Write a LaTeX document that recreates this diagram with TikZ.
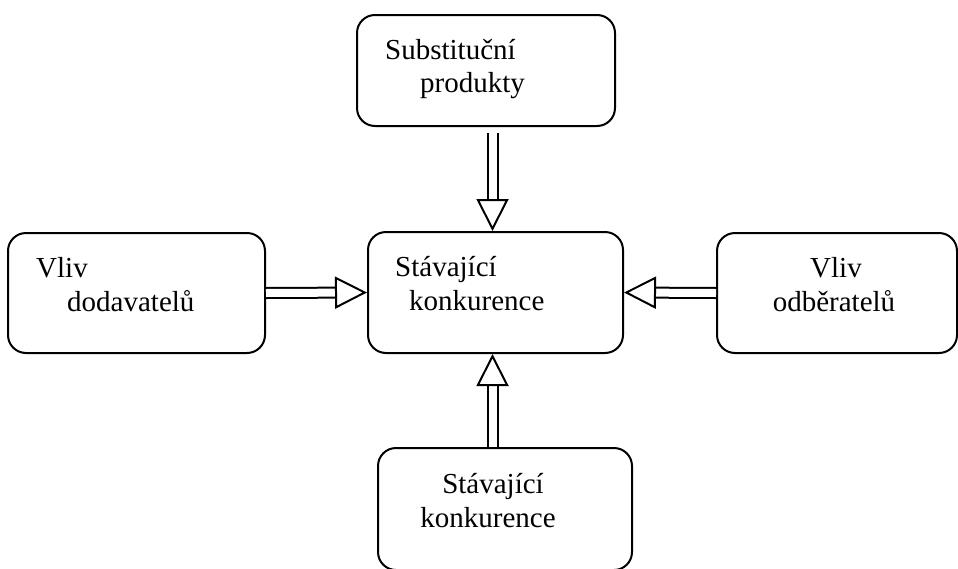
\documentclass[tikz,border=0pt]{standalone}
\usepackage{fontspec}
\setmainfont{Liberation Serif}
\usepackage{tikz}
\usetikzlibrary{positioning,arrows.meta}

\tikzset{
  box/.style={draw, line width=2pt, rounded corners=18pt, inner sep=0pt},
  txt/.style={inner sep=0pt, font=\fontsize{29}{34}\selectfont},
  bigarrow/.style={double, double distance=8pt, line width=2pt,
    -{Triangle[open, length=32pt, width=32pt]}}
}

\begin{document}
\begin{tikzpicture}[x=1pt,y=-1pt]
  \useasboundingbox (0,0) rectangle (958,568);
  \node[box, minimum width=258pt, minimum height=111pt] (sub) at (486,70.5) {};
  \node[box, minimum width=257pt, minimum height=120pt] (dod) at (136.5,293) {};
  \node[box, minimum width=255pt, minimum height=121pt] (ctr) at (495.5,292.5) {};
  \node[box, minimum width=240pt, minimum height=120pt] (odb) at (837,293) {};
  \node[box, minimum width=254pt, minimum height=122pt] (kon) at (505,509) {};
  % texts
  \node[txt, anchor=base west] (sub1) at (385,59) {Substituční};
  \node[txt, anchor=base west] (sub2) at (420,92) {produkty};
  \node[txt, anchor=base west] (dod1) at (36,277) {Vliv};
  \node[txt, anchor=base west] (dod2) at (67,311) {dodavatelů};
  \node[txt, anchor=base west] (ctr1) at (395,276) {Stávající};
  \node[txt, anchor=base west] (ctr2) at (409,310) {konkurence};
  \node[txt, anchor=base] (odb1) at (836,277) {Vliv};
  \node[txt, anchor=base] (odb2) at (834,311) {odběratelů};
  \node[txt, anchor=base] (kon1) at (493,493) {Stávající};
  \node[txt, anchor=base] (kon2) at (488,527) {konkurence};
  % arrows
  \draw[bigarrow, shorten <=6pt] ([xshift=-3pt]sub.south -| ctr.north) -- ([xshift=-3pt]ctr.north);
  \draw[bigarrow] (dod.east) -- (ctr.west);
  \draw[bigarrow] (odb.west) -- (ctr.east);
  \draw[bigarrow] ([xshift=-3pt]kon.north -| ctr.south) -- ([xshift=-3pt]ctr.south);
\end{tikzpicture}
\end{document}
